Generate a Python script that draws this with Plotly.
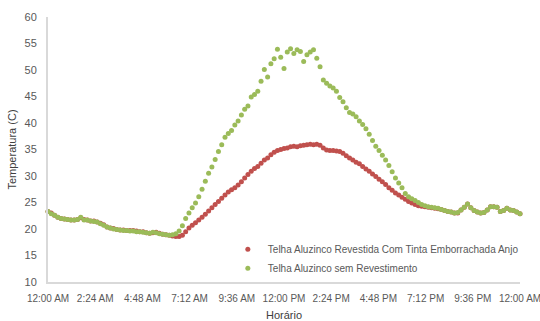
import pandas as pd
import plotly.graph_objects as go

# sampling times, minutes after midnight (every 10 min over one day)
minutes = list(range(0, 1441, 10))

red_name = "Telha Aluzinco Revestida Com Tinta Emborrachada Anjo"
green_name = "Telha Aluzinco sem Revestimento"

red_temp = [
    23.3, 23.0, 22.6, 22.2, 22.0, 21.9,
    21.8, 21.7, 21.7, 21.8, 22.1, 21.8,
    21.7, 21.5, 21.5, 21.3, 21.1, 20.8,
    20.4, 20.2, 20.1, 19.9, 19.8, 19.8,
    19.7, 19.7, 19.7, 19.6, 19.5, 19.5,
    19.3, 19.2, 19.3, 19.4, 19.2, 19.0,
    18.9, 18.8, 18.7, 18.6, 18.6, 18.8,
    19.5, 20.2, 20.7, 21.2, 21.7, 22.2,
    22.8, 23.4, 24.0, 24.6, 25.2, 25.8,
    26.4, 27.0, 27.4, 27.8, 28.3, 28.9,
    29.6, 30.3, 30.9, 31.4, 31.8, 32.4,
    33.0, 33.4, 34.0, 34.5, 34.8, 35.0,
    35.2, 35.3, 35.5, 35.6, 35.5, 35.7,
    35.8, 35.9, 36.0, 35.9, 36.0, 35.8,
    35.3, 34.9, 34.8, 34.8, 34.7, 34.6,
    34.3, 33.8, 33.4, 33.0, 32.6, 32.3,
    31.8, 31.3, 30.9, 30.4, 29.9, 29.4,
    28.9, 28.4, 27.8, 27.3, 26.8, 26.4,
    26.0, 25.6, 25.2, 24.9, 24.6, 24.4,
    24.3, 24.2, 24.1, 24.0, 23.9, 23.8,
    23.7, 23.5, 23.3, 23.2, 23.0, 23.0,
    23.6, 24.1, 24.7, 24.0, 23.5, 23.2,
    23.0, 23.1, 23.6, 24.2, 24.2, 24.1,
    23.3, 23.5, 23.9, 23.6, 23.5, 23.2,
    22.9,
]

green_temp = [
    23.3, 22.9, 22.6, 22.2, 22.0, 21.9,
    21.8, 21.7, 21.7, 21.8, 22.2, 21.7,
    21.7, 21.5, 21.4, 21.3, 21.0, 20.7,
    20.4, 20.2, 20.0, 19.9, 19.8, 19.7,
    19.7, 19.6, 19.6, 19.5, 19.5, 19.4,
    19.3, 19.2, 19.4, 19.3, 19.1, 19.0,
    18.9, 18.8, 18.9, 19.1, 19.6, 20.6,
    22.0, 23.0, 24.0, 24.9, 26.1, 27.5,
    29.0, 30.5, 31.7, 33.1, 34.6, 35.9,
    37.3, 38.0, 38.6, 39.6, 40.4, 41.5,
    42.6, 43.2, 44.9, 45.4, 46.0, 47.9,
    50.1, 48.7, 51.2, 52.1, 53.9, 52.4,
    50.3, 53.4, 54.0, 53.1, 53.8, 53.5,
    51.6, 52.9, 53.4, 53.8, 52.2, 50.6,
    48.1, 47.5, 47.0, 46.6, 46.0, 44.8,
    44.0, 42.9, 42.0, 41.7, 41.2, 40.4,
    39.7, 38.9, 37.9, 36.7, 35.6, 34.8,
    33.9, 33.0, 32.0, 30.8, 29.6, 28.7,
    27.8, 26.7, 26.1, 25.7, 25.4, 25.0,
    24.6, 24.4, 24.2, 24.1, 24.0, 23.9,
    23.7, 23.5, 23.3, 23.2, 23.0, 23.1,
    23.6, 24.1, 24.7, 24.0, 23.5, 23.2,
    23.0, 23.1, 23.6, 24.2, 24.2, 24.1,
    23.3, 23.5, 23.9, 23.6, 23.5, 23.2,
    22.9,
]

base = pd.Timestamp("2020-01-01")
times = base + pd.to_timedelta(minutes, unit="min")

FONT = "Liberation Sans Narrow, Arial Narrow, Liberation Sans, Arial, sans-serif"
GRAY = "#595959"

fig = go.Figure()
fig.add_trace(go.Scatter(x=times, y=red_temp, mode="markers", name=red_name, cliponaxis=False,
                         marker=dict(color="#c0504d", size=5, line=dict(width=0))))
fig.add_trace(go.Scatter(x=times, y=green_temp, mode="markers", name=green_name, cliponaxis=False,
                         marker=dict(color="#9bbb59", size=5, line=dict(width=0))))

fig.update_layout(
    width=540, height=321,
    margin=dict(l=48, r=20, t=17, b=39, autoexpand=False),
    paper_bgcolor="white", plot_bgcolor="white",
    font=dict(family=FONT, size=11, color=GRAY),
    showlegend=True,
    legend=dict(x=0.381, y=0.178, xanchor="left", yanchor="top",
                bgcolor="rgba(0,0,0,0)", font=dict(size=10, color=GRAY),
                tracegroupgap=0),
    xaxis=dict(
        type="date",
        range=[base, base + pd.Timedelta(minutes=1440)],
        tick0=base, dtick=144 * 60 * 1000,
        tickformat="%-I:%M %p", tickangle=0,
        tickfont=dict(size=10, color=GRAY),
        ticklabeloverflow="allow",
        showgrid=False, zeroline=False, automargin=False,
        showline=True, linecolor="#d9d9d9", linewidth=2,
        ticks="", ticklabelstandoff=6,
        title=dict(text="Horário", standoff=9, font=dict(size=11, color="#404040")),
    ),
    yaxis=dict(
        range=[10, 60], dtick=5, automargin=False,
        showgrid=False, zeroline=False,
        showline=True, linecolor="#d9d9d9", linewidth=2,
        ticks="", ticklabelstandoff=7,
        tickfont=dict(size=11, color=GRAY),
        title=dict(text="Temperatura (C)", standoff=6, font=dict(size=11, color="#404040")),
    ),
)

fig.write_html("out.html", config={"displayModeBar": False},
               post_script="document.body.style.margin='0px';")
